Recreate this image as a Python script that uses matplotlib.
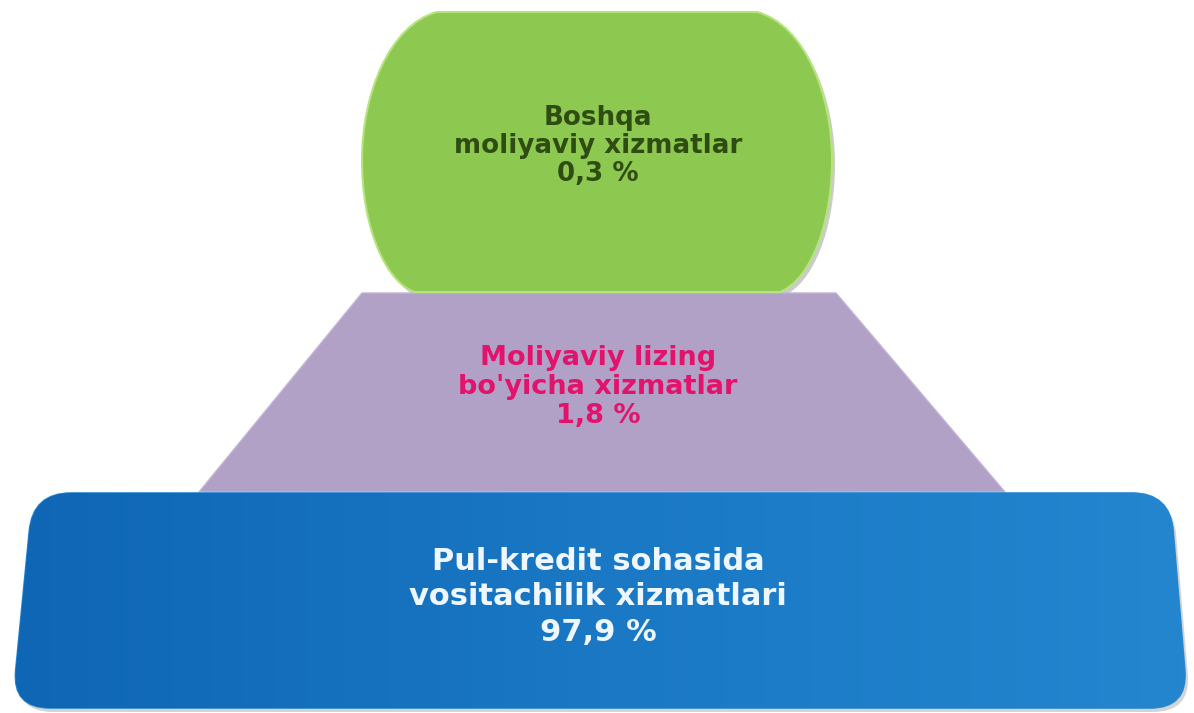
"""
Moliyaviy xizmatlar tarkibi - pyramid diagram (3 levels)
"""

import numpy as np
import matplotlib
matplotlib.use("Agg")
import matplotlib.pyplot as plt
from matplotlib.path import Path
from matplotlib.patches import PathPatch, Polygon
from matplotlib.colors import LinearSegmentedColormap
import matplotlib.transforms as mtransforms

# ------------------------------------------------------------------
# data (bottom -> top)
# ------------------------------------------------------------------
line1 = ["Pul-kredit sohasida", "Moliyaviy lizing", "Boshqa"]
line2 = ["vositachilik xizmatlari", "bo'yicha xizmatlar", "moliyaviy xizmatlar"]
shares = [97.9, 1.8, 0.3]

# styles
fill_cols = ["#1570bd", "#b1a1c7", "#8dc850"]
text_cols = ["#eef7ff", "#e3136b", "#2f4d12"]
font_pt = [22, 19.5, 18.8]
baselines = [(570, 605, 641), (365, 394, 423), (125, 153, 181)]
cx = 598

fig = plt.figure(figsize=(11.94, 7.13), dpi=100)
ax = fig.add_axes([0, 0, 1, 1])
ax.set_xlim(0, 1194)
ax.set_ylim(713, 0)
ax.axis("off")


def rounded_poly(pts, r):
    verts, codes = [], []
    n = len(pts)
    for i in range(n):
        p = np.array(pts[i], float)
        prv = np.array(pts[i - 1], float)
        nxt = np.array(pts[(i + 1) % n], float)
        a = p + (prv - p) / np.linalg.norm(prv - p) * r
        b = p + (nxt - p) / np.linalg.norm(nxt - p) * r
        verts.append(a)
        codes.append(Path.MOVETO if i == 0 else Path.LINETO)
        verts += [p, b]
        codes += [Path.CURVE3, Path.CURVE3]
    verts.append(verts[0])
    codes.append(Path.CLOSEPOLY)
    return Path(verts, codes)


def shadow(path, dx=4, dy=5, alpha=0.28):
    # offset in data units (y axis is inverted, so +dy goes down)
    return PathPatch(path, facecolor="#555555", edgecolor="none", alpha=alpha,
                     transform=mtransforms.Affine2D().translate(dx, dy) + ax.transData,
                     zorder=1)


# --- middle: purple trapezoid ---
trap = Polygon([(362, 293), (836, 293), (1005, 492), (199, 492)], closed=True,
               facecolor=fill_cols[1], edgecolor="#c4b3d6", linewidth=1, zorder=2)
ax.add_patch(trap)

# --- top: green barrel shape ---
green_verts = [
    (437, 12), (757, 12),
    (805, 25), (832, 95), (832, 160),
    (832, 225), (810, 280), (780, 292),
    (414, 292),
    (384, 280), (362, 225), (362, 160),
    (362, 95), (389, 25), (437, 12),
    (437, 12),
]
green_codes = [Path.MOVETO, Path.LINETO,
               Path.CURVE4, Path.CURVE4, Path.CURVE4,
               Path.CURVE4, Path.CURVE4, Path.CURVE4,
               Path.LINETO,
               Path.CURVE4, Path.CURVE4, Path.CURVE4,
               Path.CURVE4, Path.CURVE4, Path.CURVE4,
               Path.CLOSEPOLY]
green_path = Path(green_verts, green_codes)
ax.add_patch(shadow(green_path, 3, 4, 0.3))
ax.add_patch(PathPatch(green_path, facecolor=fill_cols[2], edgecolor="#b5e47c",
                       linewidth=1.5, zorder=3))

# --- bottom: blue rounded trapezoid with gradient ---
blue_path = rounded_poly([(33, 493), (1170, 493), (1188, 708), (12, 708)], 38)
ax.add_patch(shadow(blue_path, 3, 4, 0.25))
blue_patch = PathPatch(blue_path, facecolor=fill_cols[0], edgecolor="#2b8ad6",
                       linewidth=1.2, zorder=4)
ax.add_patch(blue_patch)
cmap = LinearSegmentedColormap.from_list("bl", ["#0f66b4", "#1a78c4", "#2386cf"])
grad = np.linspace(0, 1, 256).reshape(1, -1)
im = ax.imshow(grad, cmap=cmap, extent=(12, 1188, 708, 493), aspect="auto",
               zorder=4.5, interpolation="bicubic")
im.set_clip_path(blue_patch)
ax.set_xlim(0, 1194)
ax.set_ylim(713, 0)

# --- labels ---
for i in range(3):
    pct = f"{shares[i]:.1f}".replace(".", ",") + " %"
    for txt, yb in zip([line1[i], line2[i], pct], baselines[i]):
        ax.text(cx, yb, txt, ha="center", va="baseline", color=text_cols[i],
                fontsize=font_pt[i], fontweight="bold",
                family=["DejaVu Sans"], zorder=6)

plt.savefig("out.png", dpi=100)
